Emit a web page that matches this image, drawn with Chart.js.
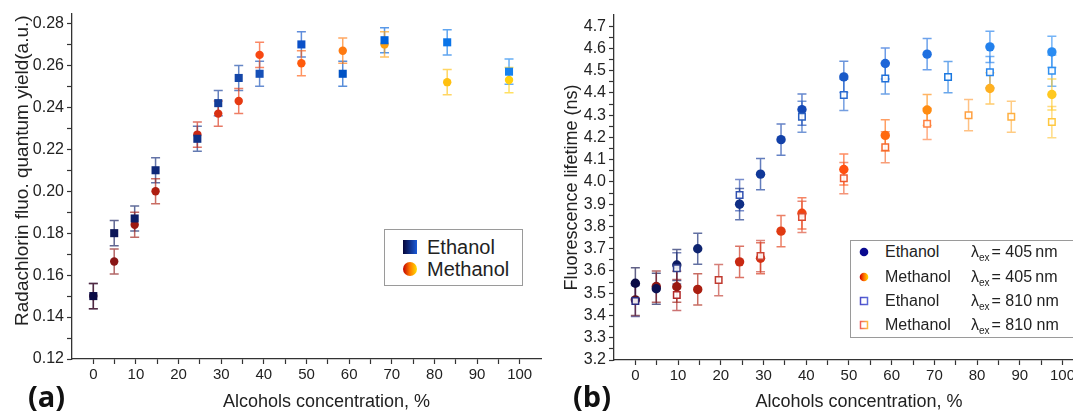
<!DOCTYPE html>
<html>
<head>
<meta charset="utf-8">
<title>Radachlorin in alcohol mixtures</title>
<style>
  html, body {
    margin: 0;
    width: 1073px;
    height: 414px;
    overflow: hidden;
    background: #fff;
    font-family: "Liberation Sans", Arial, sans-serif;
    color: #222;
  }
  .panel { position: absolute; top: 0; height: 414px; }
  #wrapA { left: 0; width: 548px; }
  #wrapB { left: 550px; width: 540px; }
  .tag { position: absolute; font: bold 29px "Open Sans", sans-serif; line-height: 1; color: #111; }
  .legend { position: absolute; border: 1px solid #9a9a9a; background: #fff; }
  .legend > span, .legend > canvas { position: absolute; white-space: nowrap; }
  #legA > span { font-size: 20px; line-height: 22px; }
  #legB > span { font-size: 16px; line-height: 18px; }
  .sub { font-size: 10px; position: relative; top: 4px; margin-right: 2px; }
</style>
<script src="https://cdn.jsdelivr.net/npm/chart.js"></script>
</head>
<body>
<div class="panel" id="wrapA"><canvas id="chartA"></canvas></div>
<div class="panel" id="wrapB"><canvas id="chartB"></canvas></div>

<span class="tag" style="left:28px;top:381px">(a)</span>
<span class="tag" style="left:573px;top:381px">(b)</span>

<div class="legend" id="legA" style="left:384px;top:229px;width:137px;height:55px">
  <canvas data-kind="gradSquare" width="16" height="16" style="left:17px;top:9px"></canvas>
  <span style="left:42px;top:6px">Ethanol</span>
  <canvas data-kind="gradCircle" width="16" height="16" style="left:17px;top:31px"></canvas>
  <span style="left:42px;top:28px">Methanol</span>
</div>

<div class="legend" id="legB" style="left:850px;top:240px;width:240px;height:96px">
  <canvas data-kind="navyDot" width="12" height="12" style="left:7px;top:5px"></canvas>
  <span style="left:34px;top:2px">Ethanol</span>
  <span style="left:120px;top:2px">&lambda;<span class="sub">ex</span>= 405&#8201;nm</span>
  <canvas data-kind="hotDot" width="12" height="12" style="left:7px;top:30px"></canvas>
  <span style="left:34px;top:27px">Methanol</span>
  <span style="left:120px;top:27px">&lambda;<span class="sub">ex</span>= 405&#8201;nm</span>
  <canvas data-kind="blueBox" width="12" height="12" style="left:7px;top:54px"></canvas>
  <span style="left:34px;top:51px">Ethanol</span>
  <span style="left:120px;top:51px">&lambda;<span class="sub">ex</span>= 810 nm</span>
  <canvas data-kind="hotBox" width="12" height="12" style="left:7px;top:78px"></canvas>
  <span style="left:34px;top:75px">Methanol</span>
  <span style="left:120px;top:75px">&lambda;<span class="sub">ex</span>= 810 nm</span>
</div>

<script>
// ---- (a) fluorescence quantum yield ----
var concA = [0, 4.9, 9.7, 14.6, 24.4, 29.3, 34.1, 39, 48.8, 58.5, 68.3, 83, 97.5];
var yieldEthanol  = [0.150, 0.180, 0.187, 0.210, 0.225, 0.242, 0.254, 0.256, 0.270, 0.256, 0.272, 0.271, 0.257];
var yieldMethanol = [0.150, 0.1665, 0.184, 0.200, 0.227, 0.237, 0.243, 0.265, 0.261, 0.267, 0.270, 0.252, 0.253];
var yieldErrEthanol  = [0.006, 0.006, 0.006, 0.006, 0.006, 0.006, 0.006, 0.006, 0.006, 0.006, 0.006, 0.006, 0.006];
var yieldErrMethanol = [0.006, 0.006, 0.006, 0.006, 0.006, 0.006, 0.006, 0.006, 0.006, 0.006, 0.006, 0.006, 0.006];

// ---- (b) fluorescence lifetime, ns ----
var concEth405 = [0, 4.9, 9.7, 14.6, 24.4, 29.3, 34.1, 39, 48.8, 58.5, 68.3, 83, 97.5];
var tauEth405  = [3.545, 3.52, 3.627, 3.70, 3.90, 4.035, 4.19, 4.325, 4.472, 4.532, 4.574, 4.607, 4.584];
var concMet405 = [0, 4.9, 9.7, 14.6, 24.4, 29.3, 34.1, 39, 48.8, 58.5, 68.3, 83, 97.5];
var tauMet405  = [3.47, 3.53, 3.529, 3.517, 3.641, 3.657, 3.779, 3.859, 4.056, 4.209, 4.323, 4.42, 4.393];
var concEth810 = [0, 9.7, 24.4, 39, 48.8, 58.5, 73.2, 83, 97.5];
var tauEth810  = [3.465, 3.612, 3.941, 4.293, 4.391, 4.465, 4.471, 4.493, 4.50];
var concMet810 = [9.7, 19.5, 29.3, 39, 48.8, 58.5, 68.3, 78, 88, 97.5];
var tauMet810  = [3.492, 3.559, 3.667, 3.843, 4.017, 4.156, 4.261, 4.30, 4.293, 4.269];
var tauErrEth405 = [0.07, 0.07, 0.07, 0.07, 0.07, 0.07, 0.07, 0.07, 0.07, 0.07, 0.07, 0.07, 0.07];
var tauErrMet405 = [0.07, 0.07, 0.07, 0.07, 0.07, 0.07, 0.07, 0.07, 0.07, 0.07, 0.07, 0.07, 0.07];
var tauErrEth810 = [0.07, 0.07, 0.07, 0.07, 0.07, 0.07, 0.07, 0.07, 0.07];
var tauErrMet810 = [0.07, 0.07, 0.07, 0.07, 0.07, 0.07, 0.07, 0.07, 0.07, 0.07];

// tick lists
var xTickValues  = [0, 5, 10, 15, 20, 25, 30, 35, 40, 45, 50, 55, 60, 65, 70, 75, 80, 85, 90, 95, 100];
var yTickValuesA = [0.12, 0.13, 0.14, 0.15, 0.16, 0.17, 0.18, 0.19, 0.20, 0.21, 0.22, 0.23, 0.24, 0.25, 0.26, 0.27, 0.28];
var yTickValuesB = [3.2, 3.25, 3.3, 3.35, 3.4, 3.45, 3.5, 3.55, 3.6, 3.65, 3.7, 3.75, 3.8, 3.85, 3.9, 3.95,
                    4.0, 4.05, 4.1, 4.15, 4.2, 4.25, 4.3, 4.35, 4.4, 4.45, 4.5, 4.55, 4.6, 4.65, 4.7];

// marker colours, dark at low concentration to light at high
var ethColorsA = ['#0a0a45', '#0c1658', '#0d1e66', '#0f2878', '#103288', '#123c98', '#1446a8', '#1650b8',
                  '#0a50c8', '#0052c4', '#0062dc', '#0a74e8', '#1682f0'];
var metColorsA = ['#4a0c1e', '#8a1616', '#9c1a12', '#ae1e10', '#cc2812', '#d83012', '#e63a12', '#f84812',
                  '#ff5a0c', '#ff7a10', '#ffa010', '#ffc010', '#ffd010'];
var eth405Colors = ['#0a0a45', '#0b1152', '#0c1a60', '#0e2470', '#0f2e85', '#103898', '#1240a8', '#1448b5',
                    '#1a5ac8', '#1e66d8', '#1f70e0', '#2280ec', '#2a8cf2'];
var met405Colors = ['#5a1020', '#8a1515', '#9a1a12', '#aa1e10', '#c82812', '#d43012', '#e03a12', '#f04412',
                    '#ff5010', '#ff6a10', '#ff8c10', '#ffb020', '#ffc820'];
var eth810Colors = ['#2a2a80', '#30408f', '#3050b0', '#2a60c0', '#2a6ad0', '#2070d8', '#1a78e0', '#2a86ec', '#3090f0'];
var met810Colors = ['#b02828', '#c03a30', '#cc4232', '#dc4a30', '#ee5a30', '#f56a30', '#ff8040', '#ffa040', '#ffb040', '#ffc840'];

Chart.defaults.font.family = '"Liberation Sans", Arial, sans-serif';
Chart.defaults.color = '#222';

function fade(hex, a) {
  var n = parseInt(hex.slice(1), 16);
  return 'rgba(' + (n >> 16) + ',' + ((n >> 8) & 255) + ',' + (n & 255) + ',' + a + ')';
}

function points(xs, ys) {
  return xs.map(function(x, i) { return { x: x, y: ys[i] }; });
}

// vertical error bars with caps, drawn under the markers
var errorBars = {
  id: 'errorBars',
  beforeDatasetsDraw: function(chart) {
    var ctx = chart.ctx, ys = chart.scales.y;
    chart.data.datasets.forEach(function(ds, i) {
      var meta = chart.getDatasetMeta(i);
      meta.data.forEach(function(pt, j) {
        var v = ds.data[j].y, e = ds.errors[j];
        var top = ys.getPixelForValue(v + e), bot = ys.getPixelForValue(v - e);
        ctx.save();
        ctx.strokeStyle = fade(ds.markColors[j], 0.65);
        ctx.lineWidth = 1.5;
        ctx.beginPath();
        ctx.moveTo(pt.x, top); ctx.lineTo(pt.x, bot);
        ctx.moveTo(pt.x - 4.5, top); ctx.lineTo(pt.x + 4.5, top);
        ctx.moveTo(pt.x - 4.5, bot); ctx.lineTo(pt.x + 4.5, bot);
        ctx.stroke();
        ctx.restore();
      });
    });
  }
};

function xScale(max, title, height) {
  return {
    type: 'linear', min: -5, max: max,
    afterBuildTicks: function(s) { s.ticks = xTickValues.map(function(v) { return { value: v }; }); },
    afterFit: function(s) { s.height = height; },
    ticks: {
      autoSkip: false, maxRotation: 0, padding: 2,
      font: { size: 15 },
      callback: function(v) { return v % 10 === 0 ? String(v) : ''; }
    },
    grid: { drawOnChartArea: false, tickLength: 5, color: '#333', tickWidth: 1.2 },
    border: { color: '#333', width: 1.3 },
    title: { display: true, text: title, font: { size: 18 }, padding: { top: 0, bottom: 1 } }
  };
}

function yScale(min, max, tickValues, fmt, title, width, titleSize) {
  return {
    type: 'linear', min: min, max: max,
    afterBuildTicks: function(s) { s.ticks = tickValues.map(function(v) { return { value: v }; }); },
    afterFit: function(s) { s.width = width; },
    ticks: { autoSkip: false, padding: 3, font: { size: 16 }, callback: fmt },
    grid: { drawOnChartArea: false, tickLength: 5, color: '#333', tickWidth: 1.2 },
    border: { color: '#333', width: 1.3 },
    title: { display: true, text: title, font: { size: titleSize }, padding: { top: 11, bottom: 0 } }
  };
}

function baseOptions(pad, scales) {
  return {
    responsive: true,
    maintainAspectRatio: false,
    animation: false,
    layout: { padding: pad },
    plugins: { legend: { display: false }, tooltip: { enabled: false } },
    scales: scales
  };
}

new Chart('chartA', {
  type: 'scatter',
  data: {
    datasets: [{
      label: 'Ethanol',
      data: points(concA, yieldEthanol),
      errors: yieldErrEthanol,
      markColors: ethColorsA,
      pointStyle: 'rect', pointRadius: 5.7,
      backgroundColor: ethColorsA, borderColor: ethColorsA, borderWidth: 0
    }, {
      label: 'Methanol',
      data: points(concA, yieldMethanol),
      errors: yieldErrMethanol,
      markColors: metColorsA,
      pointStyle: 'circle', pointRadius: 4.2,
      backgroundColor: metColorsA, borderColor: metColorsA, borderWidth: 0
    }]
  },
  options: baseOptions({ top: 14, right: 7, left: 0, bottom: 0 }, {
    x: xScale(105, '        Alcohols concentration, %', 55),
    y: yScale(0.12, 0.2845, yTickValuesA,
      function(v) { return Math.round(v * 100) % 2 === 0 ? v.toFixed(2) : ''; },
      '      Radachlorin fluo. quantum yield(a.u.)', 72, 19)
  }),
  plugins: [errorBars]
});

new Chart('chartB', {
  type: 'scatter',
  data: {
    datasets: [{
      label: 'Ethanol 810 nm',
      data: points(concEth810, tauEth810),
      errors: tauErrEth810,
      markColors: eth810Colors,
      pointStyle: 'rect', pointRadius: 4.6,
      backgroundColor: 'rgba(255,255,255,0.9)', borderColor: eth810Colors, borderWidth: 1.5
    }, {
      label: 'Methanol 810 nm',
      data: points(concMet810, tauMet810),
      errors: tauErrMet810,
      markColors: met810Colors,
      pointStyle: 'rect', pointRadius: 4.6,
      backgroundColor: 'rgba(255,255,255,0.9)', borderColor: met810Colors, borderWidth: 1.5
    }, {
      label: 'Ethanol 405 nm',
      data: points(concEth405, tauEth405),
      errors: tauErrEth405,
      markColors: eth405Colors,
      pointStyle: 'circle', pointRadius: 4.7,
      backgroundColor: eth405Colors, borderColor: eth405Colors, borderWidth: 0
    }, {
      label: 'Methanol 405 nm',
      data: points(concMet405, tauMet405),
      errors: tauErrMet405,
      markColors: met405Colors,
      pointStyle: 'circle', pointRadius: 4.7,
      backgroundColor: met405Colors, borderColor: met405Colors, borderWidth: 0
    }]
  },
  options: baseOptions({ top: 15, right: 6, left: 0, bottom: 0 }, {
    x: xScale(105, '    Alcohols concentration, %', 54),
    y: yScale(3.2, 4.75, yTickValuesB,
      function(v) { return Math.round(v * 100) % 10 === 0 ? v.toFixed(1) : ''; },
      'Fluorescence lifetime (ns)', 64, 18)
  }),
  plugins: [errorBars]
});

// legend swatches
document.querySelectorAll('.legend canvas').forEach(function(cv) {
  var c = cv.getContext('2d'), w = cv.width, kind = cv.dataset.kind, g;
  if (kind === 'gradSquare') {
    g = c.createLinearGradient(1, 0, w - 1, 0);
    g.addColorStop(0, '#06063a'); g.addColorStop(1, '#1a5ad8');
    c.fillStyle = g; c.fillRect(1, 1, w - 2, w - 2);
  } else if (kind === 'gradCircle') {
    g = c.createLinearGradient(1, 0, w - 1, 0);
    g.addColorStop(0, '#c00000'); g.addColorStop(0.5, '#ff7a00'); g.addColorStop(1, '#ffe000');
    c.fillStyle = g; c.beginPath(); c.arc(w / 2, w / 2, w / 2 - 1, 0, Math.PI * 2); c.fill();
  } else if (kind === 'navyDot') {
    c.fillStyle = '#0a0a90'; c.beginPath(); c.arc(w / 2, w / 2, 4.3, 0, Math.PI * 2); c.fill();
  } else if (kind === 'hotDot') {
    g = c.createLinearGradient(2, 0, w - 2, 0);
    g.addColorStop(0, '#d00000'); g.addColorStop(0.5, '#ff7000'); g.addColorStop(1, '#ffd800');
    c.fillStyle = g; c.beginPath(); c.arc(w / 2, w / 2, 4.3, 0, Math.PI * 2); c.fill();
  } else {
    g = c.createLinearGradient(2, 0, w - 2, 0);
    if (kind === 'blueBox') { g.addColorStop(0, '#4a4ac8'); g.addColorStop(1, '#5a6ad8'); }
    else { g.addColorStop(0, '#f05a5a'); g.addColorStop(1, '#ffc040'); }
    c.strokeStyle = g; c.lineWidth = 1.5; c.strokeRect(2.5, 2.5, w - 5, w - 5);
  }
});
</script>
</body>
</html>
